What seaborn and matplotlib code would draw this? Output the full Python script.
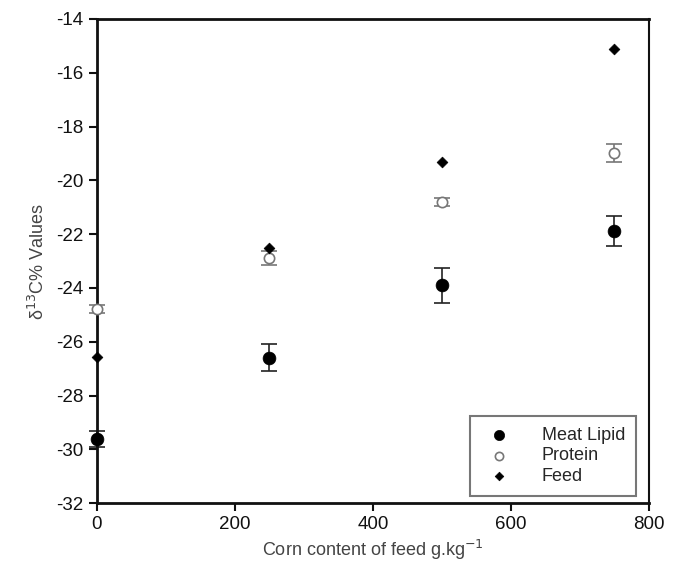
import numpy as np
import pandas as pd
import seaborn as sns
import matplotlib
matplotlib.use("Agg")
import matplotlib.pyplot as plt

corn = [0, 250, 500, 750]
lipid = [-29.6, -26.6, -23.9, -21.87]
lipid_err = [0.3, 0.5, 0.65, 0.56]
protein = [-24.8, -22.88, -20.8, -18.99]
protein_err = [0.15, 0.25, 0.15, 0.33]
feed = [-26.55, -22.52, -19.3, -15.1]

series = ["Meat Lipid", "Protein", "Feed"]

df = pd.DataFrame({
    "corn": corn * 3,
    "value": lipid + protein + feed,
    "series": [series[0]] * 4 + [series[1]] * 4 + [series[2]] * 4,
})

sns.set_theme(style="ticks")
plt.rcParams["font.family"] = ["Liberation Sans", "DejaVu Sans"]
plt.rcParams["axes.unicode_minus"] = False

fig = plt.figure(figsize=(6.73, 5.75), dpi=100)
ax = fig.add_axes([0.144, 0.125, 0.820, 0.842])

e1 = ax.errorbar(corn, lipid, yerr=lipid_err, fmt="none", ecolor="#222222",
                 elinewidth=1.2, capsize=6, capthick=1.2, zorder=2)
e2 = ax.errorbar(corn, protein, yerr=protein_err, fmt="none", ecolor="#777777",
                 elinewidth=1.2, capsize=6, capthick=1.2, zorder=2)
for e in (e1, e2):
    for art in list(e.lines[1]) + list(e.lines[2]):
        art.set_clip_on(False)

sns.scatterplot(data=df[df.series == "Meat Lipid"], x="corn", y="value",
                marker="o", s=85, color="black", edgecolor="black",
                linewidth=0.5, ax=ax, label="Meat Lipid", zorder=3, clip_on=False)
sns.scatterplot(data=df[df.series == "Protein"], x="corn", y="value",
                marker="o", s=55, facecolor="white", edgecolor="#777777",
                linewidth=1.2, ax=ax, label="Protein", zorder=3, clip_on=False)
sns.scatterplot(data=df[df.series == "Feed"], x="corn", y="value",
                marker="D", s=30, color="black", edgecolor="black",
                linewidth=0.5, ax=ax, label="Feed", zorder=3, clip_on=False)

ax.set_xlim(0, 800)
ax.set_ylim(-32, -14)
ax.set_xticks([0, 200, 400, 600, 800])
ax.set_yticks(np.arange(-32, -13, 2))
ax.tick_params(axis="both", labelsize=13.5, direction="out", length=6, width=1.5,
               colors="#111111")
for s in ["left", "bottom", "top"]:
    ax.spines[s].set_linewidth(2)
    ax.spines[s].set_color("#111111")
ax.spines["right"].set_linewidth(1.5)
ax.spines["right"].set_color("#111111")

ax.set_xlabel("Corn content of feed g.kg$^{-1}$", fontsize=13, color="#444444", labelpad=3)
ax.set_ylabel("δ$^{13}$C% Values", fontsize=13, color="#444444", labelpad=6)

leg = ax.legend(loc="lower right", fontsize=13, frameon=True, fancybox=False,
                edgecolor="#555555", borderpad=0.6, handletextpad=1.4,
                labelspacing=0.2, markerscale=0.8, borderaxespad=0,
                bbox_to_anchor=(0.977, 0.015))
leg.get_frame().set_linewidth(1.5)

fig.savefig("out.png", dpi=100, facecolor="white")
